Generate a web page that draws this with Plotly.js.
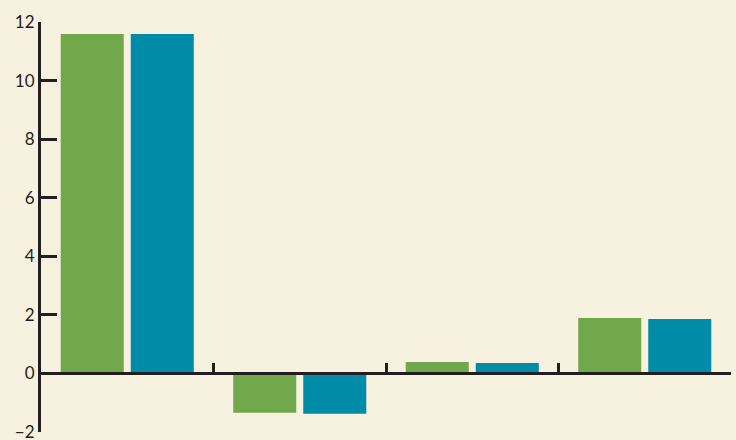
<!DOCTYPE html>
<html>
<head>
<meta charset="utf-8">
<script src="https://cdn.plot.ly/plotly-3.0.1.min.js"></script>
<style>html,body{margin:0;padding:0;background:#f7f1e0;}</style>
</head>
<body>
<div id="chart" style="width:736px;height:440px;"></div>
<script>
const categories = ["A", "B", "C", "D"];
const series1 = [11.59, -1.34, 0.39, 1.89];
const series2 = [11.59, -1.38, 0.355, 1.86];
const yTicks = [-2, 0, 2, 4, 6, 8, 10, 12];
const yRange = [-2, 12];

const ink = "#231f20";
const zeroPos = (0 - yRange[0]) / (yRange[1] - yRange[0]);

const data = [
  {type: "bar", x: categories, y: series1, name: "Series 1", marker: {color: "#72a84c"}},
  {type: "bar", x: categories, y: series2, name: "Series 2", marker: {color: "#008ca8"}}
];

const layout = {
  width: 736, height: 440,
  paper_bgcolor: "#f7f1e0", plot_bgcolor: "#f7f1e0",
  margin: {l: 41, r: 5, t: 22, b: 8},
  showlegend: false,
  barmode: "group",
  bargap: 0.188,
  bargroupgap: 0.1,
  font: {family: "Lato, 'Open Sans', sans-serif", size: 17, color: ink},
  xaxis: {
    type: "category",
    range: [-0.5, 3.5],
    anchor: "free", position: zeroPos,
    showline: true, linecolor: ink, linewidth: 3,
    ticks: "inside", tickson: "boundaries", ticklen: 9, tickwidth: 3, tickcolor: ink,
    showticklabels: false, showgrid: false, zeroline: false
  },
  yaxis: {
    range: yRange,
    tickvals: yTicks,
    ticksuffix: "\u00a0\u00a0",
    ticklabeloverflow: "allow",
    showline: true, linecolor: ink, linewidth: 3,
    ticks: "inside", ticklen: 16, tickwidth: 3, tickcolor: ink,
    showgrid: false, zeroline: false
  }
};

Plotly.newPlot("chart", data, layout, {displayModeBar: false, staticPlot: true});
</script>
</body>
</html>
